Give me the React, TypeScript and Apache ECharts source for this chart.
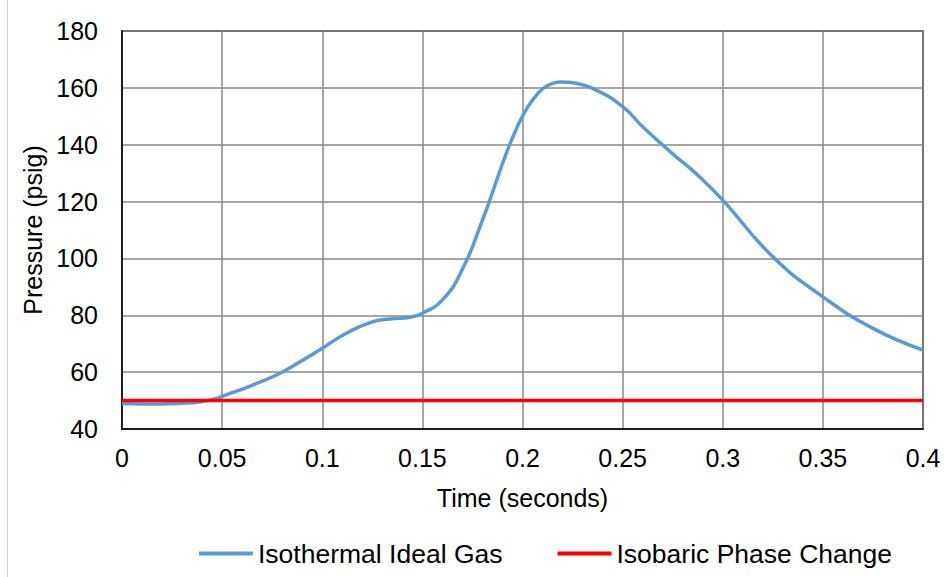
import React, { useEffect, useRef } from "react";
import * as echarts from "echarts";

// Time (seconds) and pressure (psig) samples for the ideal-gas curve
const times = [
  0, 0.02, 0.035, 0.044, 0.054, 0.064, 0.079, 0.089, 0.1, 0.112, 0.125, 0.134,
  0.144, 0.15, 0.16, 0.17, 0.18, 0.185, 0.19, 0.195, 0.2, 0.205, 0.21,
  0.215, 0.22, 0.225, 0.235, 0.25, 0.26, 0.275, 0.2875, 0.3, 0.325, 0.35,
  0.375, 0.4,
];
const isothermalPressure = [
  49.0, 48.8, 49.2, 50.2, 52.5, 55.1, 59.6, 63.7, 68.4, 73.7, 77.7, 78.7,
  79.3, 80.7, 85.4, 96.2, 113.5, 123.2, 133.3, 142.4, 150.0, 155.7, 159.6,
  161.6, 162.1, 161.8, 159.8, 153.4, 146.3, 136.8, 129.3, 120.5, 100.6, 86.5,
  75.4, 67.8,
];

// Constant pressure for the phase-change model
const isobaricTimes = [0, 0.4];
const isobaricPressure = [50, 50];

const FONT = "'Liberation Sans', Arial, sans-serif";

export default function App() {
  const ref = useRef<HTMLDivElement>(null);

  useEffect(() => {
    if (!ref.current) return;
    const chart = echarts.init(ref.current, null, { renderer: "svg" });
    chart.setOption({
      animation: false,
      backgroundColor: "#ffffff",
      textStyle: { fontFamily: FONT, color: "#000" },
      grid: {
        left: 122,
        right: 21,
        top: 31,
        bottom: 148,
        show: true,
        borderColor: "#000",
        borderWidth: 1.5,
        containLabel: false,
      },
      xAxis: {
        type: "value",
        min: 0,
        max: 0.4,
        interval: 0.05,
        name: "Time (seconds)",
        nameLocation: "middle",
        nameGap: 56,
        nameTextStyle: { fontSize: 25, color: "#000", fontFamily: FONT },
        axisLine: { show: true, lineStyle: { color: "#000", width: 1.5 } },
        axisTick: { show: false },
        axisLabel: { fontSize: 25, color: "#000", margin: 16, fontFamily: FONT },
        splitLine: { show: true, lineStyle: { color: "#898989", width: 1.5 } },
      },
      yAxis: {
        type: "value",
        min: 40,
        max: 180,
        interval: 20,
        name: "Pressure (psig)",
        nameLocation: "middle",
        nameRotate: 90,
        nameGap: 76,
        nameTextStyle: { fontSize: 25, color: "#000", fontFamily: FONT },
        axisLine: { show: true, lineStyle: { color: "#000", width: 1.5 } },
        axisTick: { show: false },
        axisLabel: { fontSize: 25, color: "#000", margin: 24, fontFamily: FONT },
        splitLine: { show: true, lineStyle: { color: "#898989", width: 1.5 } },
      },
      legend: {
        left: 194,
        top: 535,
        icon: "rect",
        itemWidth: 54,
        itemHeight: 4,
        itemGap: 55,
        textStyle: { fontSize: 26.5, color: "#000", fontFamily: FONT, padding: [0, 0, 0, 0] },
        data: ["Isothermal Ideal Gas", "Isobaric Phase Change"],
      },
      graphic: [
        {
          type: "line",
          shape: { x1: 7.5, y1: 0, x2: 7.5, y2: 577 },
          style: { stroke: "#d4d4d4", lineWidth: 1 },
          silent: true,
        },
      ],
      series: [
        {
          name: "Isothermal Ideal Gas",
          type: "line",
          data: times.map((t, i) => [t, isothermalPressure[i]]),
          smooth: 0.5,
          symbol: "none",
          showSymbol: false,
          lineStyle: { color: "#5B9BD5", width: 3.5 },
          itemStyle: { color: "#5B9BD5" },
          z: 2,
        },
        {
          name: "Isobaric Phase Change",
          type: "line",
          data: isobaricTimes.map((t, i) => [t, isobaricPressure[i]]),
          symbol: "none",
          showSymbol: false,
          lineStyle: { color: "#FF0000", width: 3.5 },
          itemStyle: { color: "#FF0000" },
          z: 3,
        },
      ],
    });
    return () => chart.dispose();
  }, []);

  return (
    <div
      ref={ref}
      style={{ position: "fixed", left: 0, top: 0, width: 944, height: 577 }}
    />
  );
}
